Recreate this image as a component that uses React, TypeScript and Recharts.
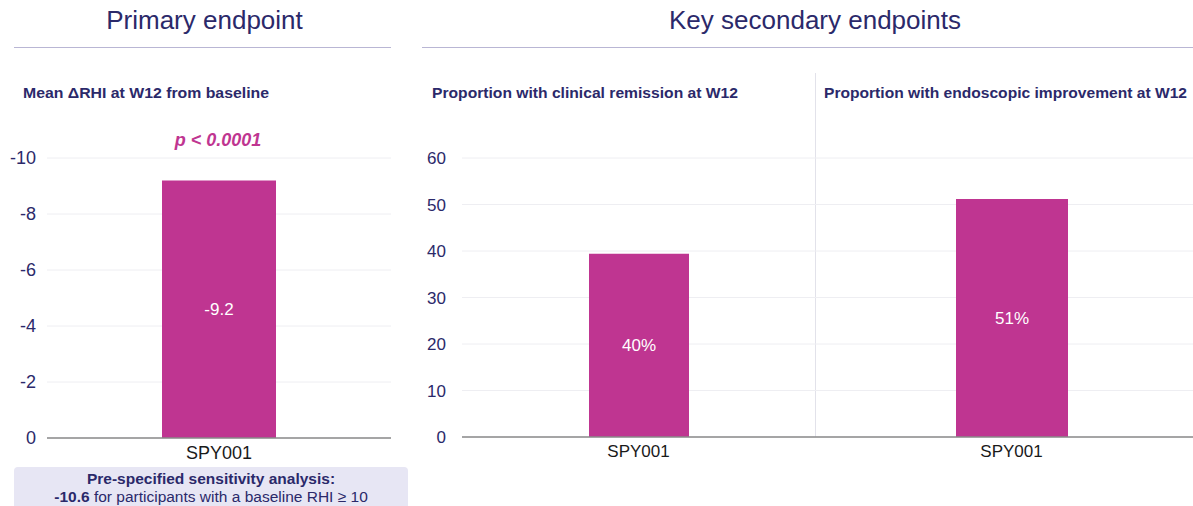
import React from "react";
import { BarChart, Bar, XAxis, YAxis, CartesianGrid, LabelList } from "recharts";

const primaryCategories = ["SPY001"];
const primaryValues = [-9.2];
const primaryLabels = ["-9.2"];
const primaryTicks = [-10, -8, -6, -4, -2, 0];

const remissionCategories = ["SPY001"];
const remissionValues = [39.4];
const remissionLabels = ["40%"];

const endoscopicCategories = ["SPY001"];
const endoscopicValues = [51.2];
const endoscopicLabels = ["51%"];

const secondaryTicks = [0, 10, 20, 30, 40, 50, 60];

const NAVY = "#2b296a";
const MAGENTA = "#bf3591";
const GRID = "#eeeef2";
const AXIS = "#8a8a8a";
const FONT = "'Liberation Sans', Arial, sans-serif";
const NARROW = "'Liberation Sans Narrow', 'Liberation Sans', Arial, sans-serif";

const primaryData = primaryCategories.map((c, i) => ({ name: c, value: primaryValues[i], label: primaryLabels[i] }));
const remissionData = remissionCategories.map((c, i) => ({ name: c, value: remissionValues[i], label: remissionLabels[i] }));
const endoscopicData = endoscopicCategories.map((c, i) => ({ name: c, value: endoscopicValues[i], label: endoscopicLabels[i] }));

// bold subtitle, width forced with textLength so the narrow ones come out condensed
function Subtitle({ x, y, width, text, size }: { x: number; y: number; width: number; text: string; size: number }) {
  return (
    <svg style={{ position: "absolute", left: x, top: y, overflow: "visible" }} width={width} height={22}>
      <text
        x={0}
        y={16}
        fill={NAVY}
        fontFamily={FONT}
        fontWeight="bold"
        fontSize={size}
        textLength={width}
        lengthAdjust="spacingAndGlyphs"
      >
        {text}
      </text>
    </svg>
  );
}

export default function App() {
  return (
    <div
      style={{
        position: "absolute",
        left: 0,
        top: 0,
        width: 1193,
        height: 506,
        overflow: "hidden",
        background: "#fff",
        fontFamily: FONT,
      }}
    >
      {/* section headers */}
      <div style={{ position: "absolute", left: 14, top: 5, width: 381, textAlign: "center", fontSize: 26, color: NAVY }}>
        Primary endpoint
      </div>
      <div style={{ position: "absolute", left: 14, top: 47, width: 377, height: 1, background: "#b9b6d4" }} />
      <div style={{ position: "absolute", left: 422, top: 5, width: 786, textAlign: "center", fontSize: 26, color: NAVY }}>
        Key secondary endpoints
      </div>
      <div style={{ position: "absolute", left: 422, top: 47, width: 771, height: 1, background: "#b9b6d4" }} />

      <Subtitle x={23} y={82} width={246} size={15} text="Mean ΔRHI at W12 from baseline" />
      <Subtitle x={432} y={82} width={306} size={15.5} text="Proportion with clinical remission at W12" />
      <Subtitle x={824} y={82} width={363} size={15} text="Proportion with endoscopic improvement at W12" />

      <div
        style={{
          position: "absolute",
          left: 118,
          top: 130,
          width: 200,
          textAlign: "center",
          color: MAGENTA,
          fontSize: 18,
          fontWeight: "bold",
          fontStyle: "italic",
        }}
      >
        p &lt; 0.0001
      </div>

      {/* divider between secondary panels */}
      <div style={{ position: "absolute", left: 815, top: 73, width: 1, height: 364, background: "#e2e2ea" }} />

      <div style={{ position: "absolute", left: 0, top: 140 }}>
        <BarChart width={400} height={340} data={primaryData} margin={{ top: 18, right: 9, bottom: 12, left: 0 }}>
          <CartesianGrid vertical={false} stroke={GRID} />
          <XAxis
            dataKey="name"
            height={30}
            tickLine={false}
            axisLine={{ stroke: AXIS, strokeWidth: 1.5 }}
            tick={{ fill: "#1a1a1a", fontSize: 18, fontFamily: FONT }}
          />
          <YAxis
            width={47}
            reversed
            domain={[-10, 0]}
            ticks={primaryTicks}
            tickLine={false}
            axisLine={false}
            tickMargin={5}
            tick={{ fill: NAVY, fontSize: 18, fontFamily: FONT }}
          />
          <Bar dataKey="value" fill={MAGENTA} barSize={114} isAnimationActive={false}>
            <LabelList dataKey="label" position="center" fill="#fff" fontSize={17} fontFamily={FONT} />
          </Bar>
        </BarChart>
      </div>

      <div style={{ position: "absolute", left: 400, top: 140 }}>
        <BarChart width={415} height={340} data={remissionData} margin={{ top: 18, right: 0, bottom: 13, left: 0 }}>
          <CartesianGrid vertical={false} stroke={GRID} />
          <XAxis
            dataKey="name"
            height={30}
            tickLine={false}
            axisLine={{ stroke: AXIS, strokeWidth: 1.5 }}
            tick={{ fill: "#1a1a1a", fontSize: 17, fontFamily: NARROW }}
          />
          <YAxis
            width={62}
            domain={[0, 60]}
            ticks={secondaryTicks}
            tickLine={false}
            axisLine={false}
            tickMargin={10}
            tick={{ fill: NAVY, fontSize: 17, fontFamily: NARROW }}
          />
          <Bar dataKey="value" fill={MAGENTA} barSize={100} isAnimationActive={false}>
            <LabelList dataKey="label" position="center" fill="#fff" fontSize={17} fontFamily={NARROW} />
          </Bar>
        </BarChart>
      </div>

      <div style={{ position: "absolute", left: 815, top: 140 }}>
        <BarChart width={393} height={340} data={endoscopicData} margin={{ top: 18, right: 0, bottom: 13, left: 0 }}>
          <CartesianGrid vertical={false} stroke={GRID} />
          <XAxis
            dataKey="name"
            height={30}
            tickLine={false}
            axisLine={{ stroke: AXIS, strokeWidth: 1.5 }}
            tick={{ fill: "#1a1a1a", fontSize: 17, fontFamily: NARROW }}
          />
          <YAxis hide width={0} domain={[0, 60]} ticks={secondaryTicks} />
          <Bar dataKey="value" fill={MAGENTA} barSize={112} isAnimationActive={false}>
            <LabelList dataKey="label" position="center" fill="#fff" fontSize={17} fontFamily={NARROW} />
          </Bar>
        </BarChart>
      </div>

      {/* sensitivity analysis note */}
      <div
        style={{
          position: "absolute",
          left: 14,
          top: 467,
          width: 394,
          height: 50,
          background: "#e7e6f4",
          borderRadius: 4,
          color: NAVY,
          textAlign: "center",
          fontSize: 15.5,
          lineHeight: "18px",
          paddingTop: 3,
        }}
      >
        <div style={{ fontWeight: "bold" }}>Pre-specified sensitivity analysis:</div>
        <div>
          <b>-10.6</b> for participants with a baseline RHI ≥ 10
        </div>
      </div>
    </div>
  );
}
